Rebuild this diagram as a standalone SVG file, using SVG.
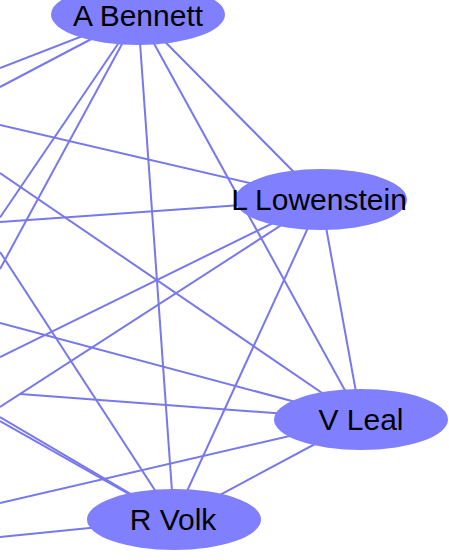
<svg xmlns="http://www.w3.org/2000/svg" width="449" height="560" viewBox="0 0 449 560">
<style>
.e{fill:none;stroke:#7878ee;stroke-width:2}
.n{fill:#8080ff;stroke:none}
.t{font-family:"Liberation Sans",Arial,sans-serif;font-size:30px;fill:#000;text-anchor:middle}
</style>
<rect width="449" height="560" fill="#fff"/>
<g id="edges">
<path class="e" d="M0,68 L138,14.5"/>
<path class="e" d="M0,87 L138,14.5"/>
<path class="e" d="M0,217.5 L138,14.5"/>
<path class="e" d="M0,269 L138,14.5"/>
<path class="e" d="M138,14.5 L174,519.5"/>
<path class="e" d="M138,14.5 L361,419.5"/>
<path class="e" d="M138,14.5 L321,199.5"/>
<path class="e" d="M0,125 L321,199.5"/>
<path class="e" d="M0,222 L321,199.5"/>
<path class="e" d="M0,357 L321,199.5"/>
<path class="e" d="M0,407 L321,199.5"/>
<path class="e" d="M321,199.5 L361,419.5"/>
<path class="e" d="M321,199.5 L174,519.5"/>
<path class="e" d="M0,173 L361,419.5"/>
<path class="e" d="M0,323 L361,419.5"/>
<path class="e" d="M20,394 L361,419.5"/>
<path class="e" d="M0,503 L361,419.5"/>
<path class="e" d="M174,519.5 L361,419.5"/>
<path class="e" d="M0,252 L174,519.5"/>
<path class="e" d="M0,417 L174,519.5"/>
<path class="e" d="M0,421 L174,519.5"/>
<path class="e" d="M0,537 L174,519.5"/>
</g>
<g id="a-bennett"><ellipse class="n" cx="138" cy="14.5" rx="87" ry="30.5"/><text class="t" x="138" y="26">A Bennett</text></g>
<g id="l-lowenstein"><ellipse class="n" cx="321" cy="199.5" rx="86" ry="30.5"/><text class="t" x="319" y="210">L Lowenstein</text></g>
<g id="v-leal"><ellipse class="n" cx="361" cy="419.5" rx="87" ry="30.5"/><text class="t" x="361" y="430">V Leal</text></g>
<g id="r-volk"><ellipse class="n" cx="174" cy="519.5" rx="87" ry="30.5"/><text class="t" x="173" y="530">R Volk</text></g>
</svg>
